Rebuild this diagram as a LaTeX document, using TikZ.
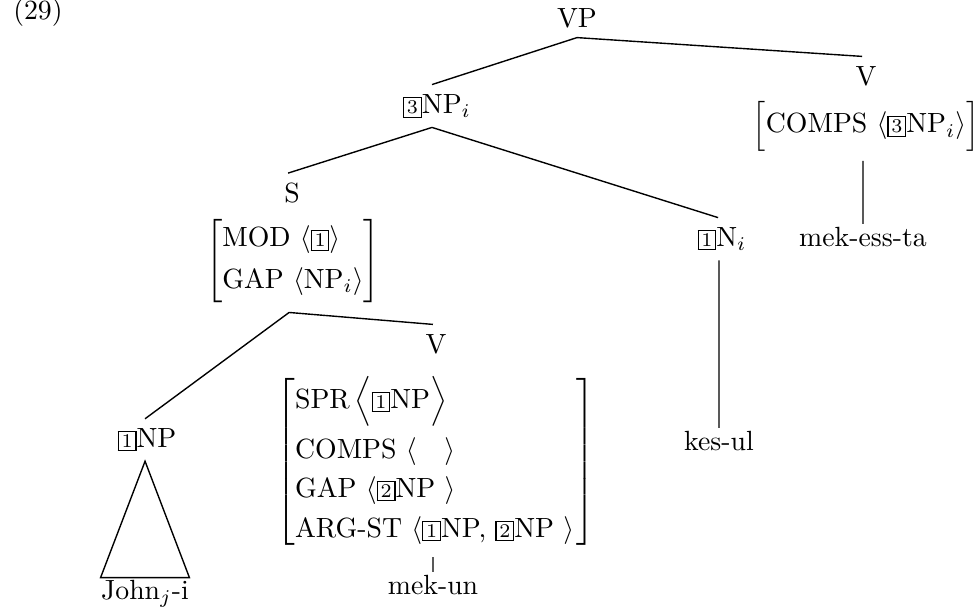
\documentclass[tikz,border=0pt]{standalone}
\usetikzlibrary{calc}

% boxed structure-sharing tags
\newcommand{\tg}[1]{{\setlength{\fboxsep}{1pt}\setlength{\fboxrule}{0.4pt}\fbox{\scriptsize #1}}}

\begin{document}
\begin{tikzpicture}[x=0.36pt,y=-0.36pt,
  lab/.style={inner sep=3.33pt},
  leaf/.style={inner sep=1pt},
  edge/.style={line width=0.5pt}]
\useasboundingbox (0,0) rectangle (976,609);

\node[lab] (ex) at (38,13) {(29)};

% top of the tree
\node[lab] (vp) at (577,18) {VP};
\node[lab] (np3) at (437,106) {\tg{3}NP$_i$};
\node[lab] (v1) at (866,76) {V};
\node[lab] (v1avm) at (866,126) {$\left[\rule[-5.5pt]{0pt}{17pt}\mbox{COMPS }\langle\tg{3}\mbox{NP}_i\rangle\right]$};
\node[leaf] (mekessta) at (863,237) {mek-ess-ta};

% relative clause and head noun
\node[lab] (s) at (292,193) {S};
\node[lab] (savm) at (293,261) {$\left[\begin{array}{@{}l@{}}
  \mbox{MOD }\langle\tg{1}\rangle\\[3pt]
  \mbox{GAP }\langle\mbox{NP}_i\rangle
  \end{array}\right]$};
\node[lab] (n1) at (722,239) {\tg{1}N$_i$};
\node[leaf] (kesul) at (719,441) {kes-ul};

% inside the relative clause
\node[lab] (np1) at (147,440) {\tg{1}NP};
\node[lab,inner ysep=0.8pt,inner xsep=0pt] (john) at (145,594) {John$_j$-i};
\node[lab] (v2) at (436,344) {V};
\node[lab] (v2avm) at (436,462) {$\left[\begin{array}{@{}l@{\hspace{1pt}}}
  \mbox{SPR}\,\Bigl\langle\tg{1}\mbox{NP}\Bigr\rangle\\[6pt]
  \mbox{COMPS }\langle\quad\rangle\\[2pt]
  \mbox{GAP }\langle\tg{2}\mbox{NP }\rangle\\[2.4pt]
  \mbox{ARG-ST }\langle\tg{1}\mbox{NP, }\tg{2}\mbox{NP }\rangle
  \end{array}\right]$};
\node[leaf] (mekun) at (433,585) {mek-un};

% branches
\draw[edge] (vp.south) -- ([xshift=-1.8pt]np3.north);
\draw[edge] (vp.south) -- ([xshift=-1.4pt]v1.north);
\draw[edge] ([xshift=-1.1pt]v1avm.south) -- (mekessta.north);
\draw[edge] ([xshift=-1.8pt]np3.south) -- ([xshift=-1.4pt]s.north);
\draw[edge] ([xshift=-1.8pt]np3.south) -- ([xshift=-1.4pt]n1.north);
\draw[edge] ([xshift=-1.1pt]n1.south) -- (kesul.north);
\draw[edge] ([xshift=-1.4pt]savm.south) -- ([xshift=-0.7pt]np1.north);
\draw[edge] ([xshift=-1.4pt]savm.south) -- ([xshift=-1.1pt]v2.north);
\draw[edge] ([xshift=-1.1pt]v2avm.south) -- (mekun.north);
\draw[edge] ([xshift=-0.7pt]np1.south) -- (john.north west) -- (john.north east) -- cycle;
\end{tikzpicture}
\end{document}
